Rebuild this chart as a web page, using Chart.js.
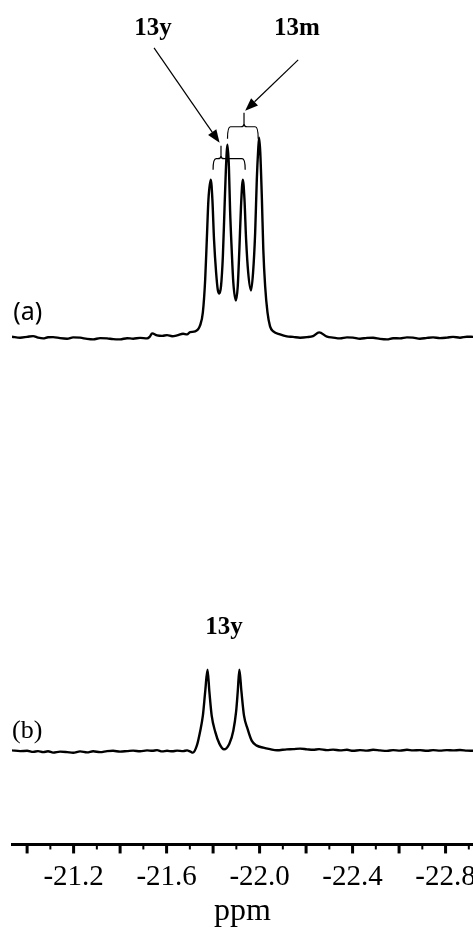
<!DOCTYPE html>
<html>
<head>
<meta charset="utf-8">
<script src="https://cdn.jsdelivr.net/npm/chart.js@4.4.0/dist/chart.umd.min.js"></script>
<style>
  html, body { margin: 0; padding: 0; background: #fff; }
  canvas { display: block; }
</style>
</head>
<body>
<canvas id="nmr" width="473" height="929"></canvas>
<script>
// chemical shift (ppm) and intensity (arb. units)
const shiftA = [
  -20.935, -20.970, -21.000, -21.026, -21.047, -21.069, -21.090, -21.112, -21.142, -21.172,
  -21.198, -21.228, -21.258, -21.284, -21.314, -21.344, -21.370, -21.400, -21.430, -21.456,
  -21.486, -21.516, -21.527, -21.538, -21.559, -21.581, -21.602, -21.624, -21.645, -21.671,
  -21.688, -21.701, -21.723, -21.744, -21.756, -21.766, -21.773, -21.780, -21.790, -21.797,
  -21.804, -21.813, -21.820, -21.827, -21.834, -21.842, -21.849, -21.855, -21.862, -21.868,
  -21.873, -21.880, -21.887, -21.898, -21.906, -21.913, -21.920, -21.928, -21.935, -21.942,
  -21.951, -21.963, -21.972, -21.981, -21.988, -21.994, -21.998, -22.003, -22.010, -22.016,
  -22.024, -22.034, -22.045, -22.059, -22.088, -22.117, -22.144, -22.174, -22.204, -22.230,
  -22.256, -22.290, -22.316, -22.346, -22.376, -22.402, -22.432, -22.462, -22.488, -22.518,
  -22.548, -22.574, -22.604, -22.634, -22.660, -22.690, -22.720, -22.746, -22.776, -22.806,
  -22.832, -22.862, -22.892, -22.918
];
const intensityA = [
  1.7, 0.7, 1.5, 2.3, 0.8, 0, 1.2, 1.3, 0.2, -0.3,
  1.0, 0.7, -0.5, -1.0, 0.3, 0, -0.8, -1.0, 0.2, -0.3,
  0.5, 0, 1.5, 5, 3, 2.5, 3.3, 2.2, 3, 4.7,
  4, 6.3, 7, 13, 26, 59, 99, 139, 159, 139,
  99, 66, 49, 45, 52, 82, 129, 169, 194, 172,
  129, 89, 56, 38, 52, 89, 132, 159, 139, 99,
  66, 48, 66, 106, 159, 189, 201, 186, 139, 89,
  52, 26, 12, 7, 4, 2, 1.5, 0.7, 1.2, 2.3,
  6, 1.7, 0.8, 0, 1.0, 0.7, -0.3, 0.5, 0.7, -0.5,
  -1.0, 0.2, 0, 1.0, 0.7, -0.3, 0.5, 1.0, 0.3, 0.8,
  1.5, 0.7, 1.7, 1.5
];
const shiftB = [
  -20.935, -20.970, -21.000, -21.026, -21.047, -21.069, -21.090, -21.112, -21.142, -21.172,
  -21.198, -21.228, -21.258, -21.284, -21.314, -21.344, -21.370, -21.400, -21.430, -21.456,
  -21.486, -21.516, -21.538, -21.559, -21.581, -21.602, -21.624, -21.645, -21.671, -21.688,
  -21.701, -21.713, -21.730, -21.744, -21.756, -21.766, -21.776, -21.784, -21.794, -21.809,
  -21.827, -21.847, -21.870, -21.887, -21.899, -21.906, -21.913, -21.922, -21.933, -21.948,
  -21.966, -21.988, -22.016, -22.045, -22.074, -22.117, -22.144, -22.174, -22.204, -22.230,
  -22.256, -22.290, -22.316, -22.346, -22.376, -22.402, -22.432, -22.462, -22.488, -22.518,
  -22.548, -22.574, -22.604, -22.634, -22.660, -22.690, -22.720, -22.746, -22.776, -22.806,
  -22.832, -22.862, -22.892, -22.918
];
const intensityB = [
  1.3, 0.5, 0.8, -0.3, 0.5, -0.5, 0.3, -1.0, 0, -0.5,
  -1.2, 0.2, -0.8, 0.3, -0.5, 0.5, 0.8, 0, 0.5, 1.0,
  0.3, 1.2, 0.8, 1.5, 0.2, 0.8, 0.3, 1.0, 0.5, 1.2,
  0.2, -1, 6, 20, 36, 60, 82, 60, 36, 20,
  8, 2.3, 8, 21, 40, 60, 82, 60, 36, 23,
  11, 6, 4, 2.5, 1.3, 2.3, 2.5, 3, 2.3, 1.8,
  2.5, 1.5, 2.0, 1.2, 1.8, 0.8, 1.5, 1.0, 1.8, 1.2,
  0.7, 1.5, 1.0, 1.8, 1.2, 1.5, 0.8, 1.5, 1.0, 1.5,
  1.2, 1.6, 1.0, 0.8
];
const tickLabels = [-21.2, -21.6, -22.0, -22.4, -22.8];
const traceNames = ['(a)', '(b)'];
const assignTop = ['13y', '13m'];
const assignBottom = ['13y'];

// vertical stacking of the two traces, in y-axis units
const OFFSET_A = 507;
const OFFSET_B = 93;

// brace / arrow / label placement in axis units (ppm, y)
const marks = {
  names: [{ x: -20.940, y: 525 }, { x: -20.935, y: 107 }],
  top: [{ x: -21.542, y: 811 }, { x: -22.161, y: 811 }],
  bottom: [{ x: -21.847, y: 211 }],
  braces: [
    { x0: -21.800, x1: -21.938, xn: -21.834, yh: 687, ye: 676, yn: 700 },
    { x0: -21.862, x1: -21.994, xn: -21.933, yh: 719, ye: 707, yn: 733 }
  ],
  arrows: [
    { x0: -21.546, y0: 798, x1: -21.828, y1: 703 },
    { x0: -22.166, y0: 786, x1: -21.938, y1: 735 }
  ]
};

function brace(ctx, x0, x1, xn, yh, ye, yn) {
  const r = 3;
  ctx.beginPath();
  ctx.moveTo(x0, ye);
  ctx.quadraticCurveTo(x0, yh, x0 + r, yh);
  ctx.lineTo(xn - r, yh);
  ctx.quadraticCurveTo(xn, yh, xn, yh - r);
  ctx.lineTo(xn, yn);
  ctx.moveTo(xn, yh - r);
  ctx.quadraticCurveTo(xn, yh, xn + r, yh);
  ctx.lineTo(x1 - r, yh);
  ctx.quadraticCurveTo(x1, yh, x1, ye);
  ctx.stroke();
}

function arrow(ctx, x0, y0, x1, y1) {
  const a = Math.atan2(y1 - y0, x1 - x0);
  const L = 13, W = 5;
  const bx = x1 - L * Math.cos(a), by = y1 - L * Math.sin(a);
  ctx.beginPath();
  ctx.moveTo(x0, y0);
  ctx.lineTo(bx, by);
  ctx.stroke();
  ctx.beginPath();
  ctx.moveTo(x1, y1);
  ctx.lineTo(bx + W * Math.sin(a), by - W * Math.cos(a));
  ctx.lineTo(bx - W * Math.sin(a), by + W * Math.cos(a));
  ctx.closePath();
  ctx.fill();
}

const annotate = {
  id: 'annotate',
  afterDraw(chart) {
    const { ctx, scales: { x, y } } = chart;
    const px = v => x.getPixelForValue(v);
    const py = v => y.getPixelForValue(v);
    const base = chart.chartArea.bottom;
    ctx.save();
    ctx.fillStyle = '#000';
    ctx.strokeStyle = '#000';

    // tick marks under the axis: long every 0.2 ppm, short in between
    x.ticks.forEach(t => {
      const major = Math.round(t.value * 10) % 2 === 0;
      const w = major ? 3 : 2;
      ctx.fillRect(px(t.value) - w / 2, base, w, major ? 9 : 5);
    });

    ctx.lineWidth = 1.2;
    marks.braces.forEach(b => brace(ctx, px(b.x0), px(b.x1), px(b.xn), py(b.yh), py(b.ye), py(b.yn)));
    marks.arrows.forEach(a => arrow(ctx, px(a.x0), py(a.y0), px(a.x1), py(a.y1)));

    ctx.textBaseline = 'alphabetic';
    ctx.textAlign = 'center';
    ctx.font = 'bold 25px "Liberation Serif"';
    assignTop.forEach((s, k) => ctx.fillText(s, px(marks.top[k].x), py(marks.top[k].y)));
    assignBottom.forEach((s, k) => ctx.fillText(s, px(marks.bottom[k].x), py(marks.bottom[k].y)));

    ctx.textAlign = 'left';
    ctx.font = '25px "Noto Sans"';
    ctx.fillText(traceNames[0], px(marks.names[0].x), py(marks.names[0].y));
    ctx.font = '26px "Liberation Serif"';
    ctx.fillText(traceNames[1], px(marks.names[1].x), py(marks.names[1].y));
    ctx.restore();
  }
};

new Chart(document.getElementById('nmr'), {
  type: 'line',
  data: {
    datasets: [
      { label: traceNames[0], data: shiftA.map((s, k) => ({ x: s, y: intensityA[k] + OFFSET_A })) },
      { label: traceNames[1], data: shiftB.map((s, k) => ({ x: s, y: intensityB[k] + OFFSET_B })) }
    ]
  },
  options: {
    responsive: false,
    animation: false,
    layout: { padding: { left: 12, right: 0, top: 0, bottom: 0 } },
    elements: {
      point: { radius: 0 },
      line: { borderColor: '#000', borderWidth: 2.4, fill: false, cubicInterpolationMode: 'monotone' }
    },
    plugins: { legend: { display: false }, tooltip: { enabled: false } },
    scales: {
      x: {
        type: 'linear',
        reverse: true,
        min: -22.918,
        max: -20.935,
        border: { display: true, color: '#000', width: 3 },
        // real tick marks are drawn by the plugin; this only reserves the room
        grid: { display: true, drawOnChartArea: false, drawTicks: true, tickLength: 16, tickColor: 'rgba(0,0,0,0)' },
        ticks: {
          stepSize: 0.1,
          includeBounds: false,
          autoSkip: false,
          maxRotation: 0,
          padding: 0,
          color: '#000',
          font: { family: 'Liberation Serif', size: 29, lineHeight: 1.15 },
          callback: v => tickLabels.some(t => Math.abs(t - v) < 1e-6) ? v.toFixed(1) : ''
        },
        title: {
          display: true,
          text: 'ppm',
          color: '#000',
          padding: { top: 0, bottom: 0 },
          font: { family: 'Liberation Serif', size: 32, lineHeight: 1.1 }
        }
      },
      y: { display: false, min: 0, max: 846 }
    }
  },
  plugins: [annotate]
});
</script>
</body>
</html>
